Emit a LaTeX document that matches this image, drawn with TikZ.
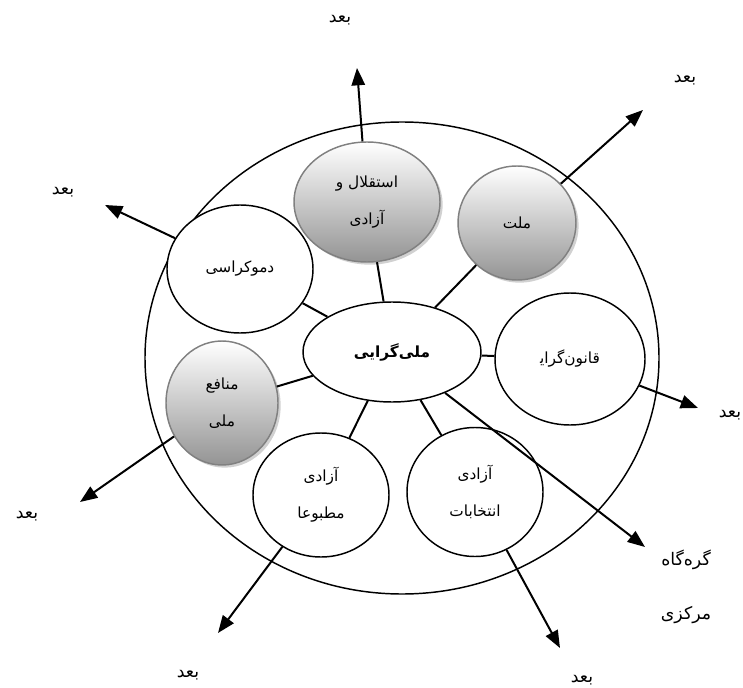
\documentclass[tikz,border=0pt]{standalone}
\usepackage{fontspec}
\usetikzlibrary{shapes.geometric,arrows.meta,shadows}
\newfontfamily\arabicfont[Script=Arabic]{DejaVu Sans}
\TeXXeTstate=1
\newcommand{\fatext}[1]{\beginR#1\endR}
\tikzset{
  bub/.style={ellipse, draw, line width=1.1pt, inner sep=0pt, fill=white,
    font=\arabicfont\fontsize{11.5}{28}\selectfont, align=center},
  gbub/.style={bub, draw=black!50, top color=white, middle color=black!10, bottom color=black!42,
    drop shadow={fill=black!30, shadow xshift=2pt, shadow yshift=-2pt, opacity=0.6}},
  link/.style={line width=1.5pt},
  dimarrow/.style={line width=1.5pt, -{Triangle[length=13pt,width=10pt]}},
  lbl/.style={font=\arabicfont\fontsize{13}{16}\selectfont, inner sep=0pt},
  biglbl/.style={font=\arabicfont\fontsize{13}{28}\selectfont, inner sep=0pt, align=center},
}
\begin{document}
\begin{tikzpicture}[x=0.75pt,y=-0.75pt]
\useasboundingbox (0,0) rectangle (743,688);
\node[ellipse, draw, line width=1.1pt, minimum width=385.5pt, minimum height=354pt, inner sep=0pt] (big) at (402,358) {};

\node[gbub, minimum width=109.5pt, minimum height=90pt] (ist) at (367,202) {\fatext{استقلال و}\\\fatext{آزادی}};
\node[gbub, minimum width=88.5pt, minimum height=85.5pt] (mel) at (517,223) {\fatext{ملت}};
\node[gbub, minimum width=84pt, minimum height=93pt] (man) at (222,403) {\fatext{منافع}\\\fatext{ملی}};
\node[bub, minimum width=109.5pt, minimum height=96pt] (dem) at (240,269) {\fatext{دموکراسی}};
\node[bub, minimum width=133.5pt, minimum height=75pt, font=\arabicfont\bfseries\fontsize{11.5}{28}\selectfont] (cen) at (392,352) {\fatext{ملی^^^^200cگرایی}};
\node[bub, minimum width=112.5pt, minimum height=99pt] (qan) at (570,359) {\fatext{قانون^^^^200cگرای^^^^200d}};
\node[bub, minimum width=102pt, minimum height=93pt] (mat) at (321,495) {\fatext{آزادی}\\\fatext{مطبوعا}};
\node[bub, minimum width=102pt, minimum height=96.75pt] (ent) at (475,492) {\fatext{آزادی}\\\fatext{انتخابات}};

\draw[link] (cen) -- (dem);
\draw[link] (cen) -- (ist);
\draw[link] (cen) -- (mel);
\draw[link] (cen) -- (qan);
\draw[link] (cen) -- (man);
\draw[link] (cen) -- (mat);
\draw[link] (cen) -- (ent);

\coordinate (t1) at (357,68);
\coordinate (t2) at (643,110);
\coordinate (t3) at (105,205);
\coordinate (t4) at (80,502);
\coordinate (t5) at (218,633);
\coordinate (t6) at (560,648);
\coordinate (t7) at (698,408);
\coordinate (t8) at (645,547);

\draw[dimarrow] (ist) -- (t1);
\draw[dimarrow] (mel) -- (t2);
\draw[dimarrow] (dem) -- (t3);
\draw[dimarrow] (man) -- (t4);
\draw[dimarrow] (mat) -- (t5);
\draw[dimarrow] (ent) -- (t6);
\draw[dimarrow] (qan) -- (t7);
\draw[dimarrow] (cen) -- (t8);

\node[lbl] (b1) at (340,20) {\fatext{بعد}};
\node[lbl] (b2) at (685,80) {\fatext{بعد}};
\node[lbl] (b3) at (63,192) {\fatext{بعد}};
\node[lbl] (b4) at (27,516) {\fatext{بعد}};
\node[lbl] (b5) at (188,675) {\fatext{بعد}};
\node[lbl] (b6) at (582,680) {\fatext{بعد}};
\node[lbl] (b7) at (730,415) {\fatext{بعد}};
\node[biglbl] (g1) at (686,587) {\fatext{گره^^^^200cگاه}\\[12pt]\fatext{مرکزی}};
\end{tikzpicture}
\end{document}
